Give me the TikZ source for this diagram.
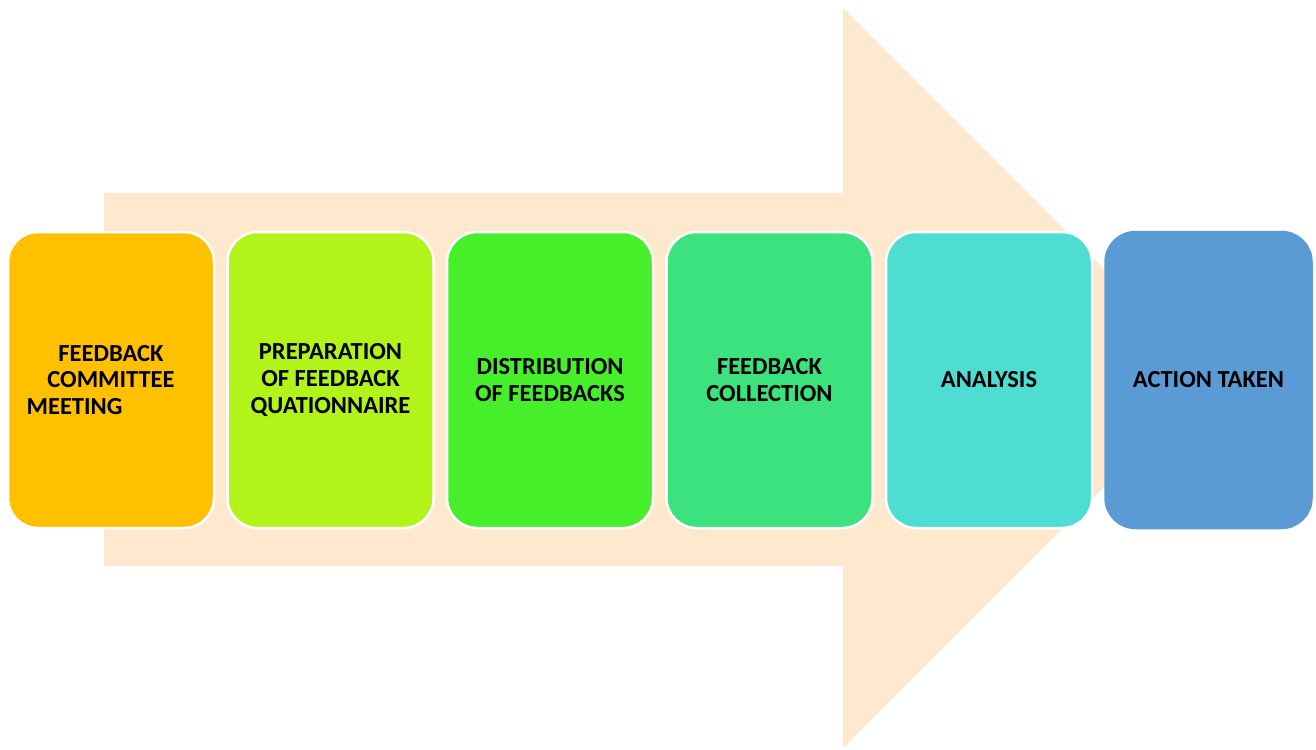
\documentclass[tikz,border=0pt]{standalone}
\usepackage{fontspec}
\setmainfont{Carlito}
\usepackage{tikz}
\usetikzlibrary{positioning}
\definecolor{arrowbg}{HTML}{FEE8CE}
\definecolor{meetcol}{HTML}{FFC000}
\definecolor{prepcol}{HTML}{B2F419}
\definecolor{distcol}{HTML}{47EF2B}
\definecolor{collcol}{HTML}{3BE27E}
\definecolor{anacol}{HTML}{4DDDD3}
\definecolor{actcol}{HTML}{5B9BD5}

\begin{document}
\begin{tikzpicture}
  [
    x=1pt,
    y=-1pt,
    node distance=11pt,
    stage/.style={draw=white, line width=2.5pt, rounded corners=30pt, minimum width=206pt, minimum height=296pt, align=center, inner sep=0pt, font=\fontsize{24.5}{26.5}\selectfont\bfseries},
  ]
  \useasboundingbox (0,0) rectangle (1316,749);
  % big background arrow
  \fill [arrowbg] (104,193) -- (843,193) -- (843,8) -- (1213,378) -- (843,748) -- (843,566) -- (104,566) -- cycle;
  \node [stage, fill=meetcol] (meeting) at (111,380) {FEEDBACK\\COMMITTEE\\MEETING\hspace*{73pt}};
  \node [stage, fill=prepcol, right=of meeting] (prep) {PREPARATION\\OF FEEDBACK\\QUATIONNAIRE};
  \node [stage, fill=distcol, right=of prep] (distrib) {DISTRIBUTION\\OF FEEDBACKS};
  \node [stage, fill=collcol, right=of distrib] (collect) {FEEDBACK\\COLLECTION};
  \node [stage, fill=anacol, right=of collect] (analysis) {ANALYSIS};
  \node [stage, fill=actcol, draw=actcol, right=of analysis] (action) {ACTION TAKEN};
\end{tikzpicture}
\end{document}
